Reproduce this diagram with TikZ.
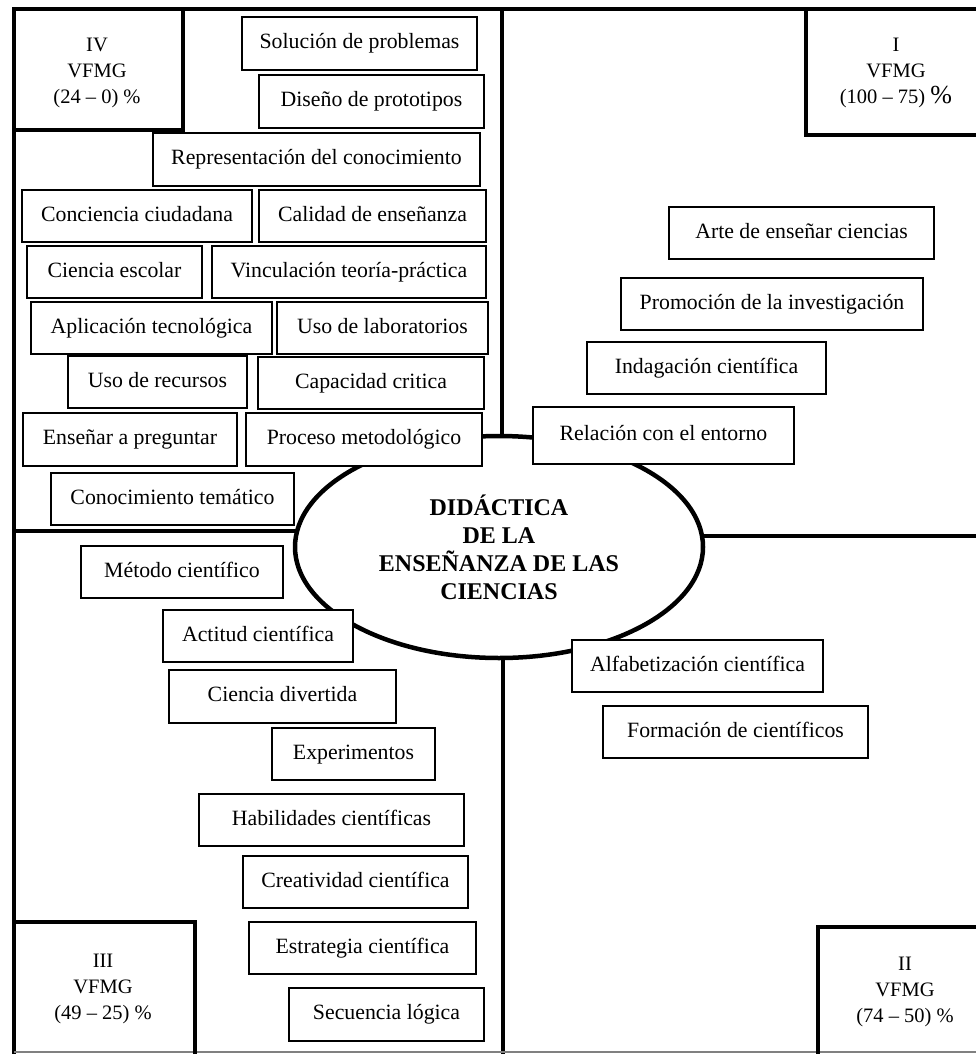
\documentclass[tikz,border=0pt]{standalone}
\usepackage{fontspec}
\setmainfont{Liberation Serif}
\usetikzlibrary{shapes.geometric,backgrounds}
\tikzset{
  bx/.style={draw=black, fill=white, line width=1.2pt, inner sep=0pt, text height=15pt, text depth=5pt, font=\fontsize{21.8}{25}\selectfont},
  thickline/.style={line width=4.5pt, line cap=rect},
  quad/.style={align=center, font=\fontsize{20.5}{26}\selectfont},
  ell/.style={draw=black, fill=white, ellipse, line width=4.5pt, inner sep=0pt, minimum width=408pt, minimum height=222pt, align=center, font=\fontsize{24}{28}\selectfont\bfseries}
}
\newcommand\mybox[6]{\node[bx, minimum width=#4pt, minimum height=#5pt] (#1) at (#2,#3) {#6};}
\begin{document}
\begin{tikzpicture}[x=1pt, y=-1pt]
\useasboundingbox (0,0) rectangle (975,1054);
% frame
\draw[thickline] (980,9) -- (14,9) -- (14,1052);
\draw[gray, line width=1.5pt] (14,1052) -- (980,1052);
% corner boxes
\draw[thickline] (183,9) -- (183,130) -- (14,130);
\draw[thickline] (985,135) -- (806,135) -- (806,9);
\draw[thickline] (985,927) -- (818,927) -- (818,1060);
\draw[thickline] (14,922) -- (195,922) -- (195,1060);
\node[quad] (qIV) at (97,73) {IV\\VFMG\\(24 -- 0) \%};
\node[quad] (qI) at (896,73) {I\\VFMG\\(100 -- 75) {\fontsize{26}{26}\selectfont\%}};
\node[quad] (qII) at (905,992) {II\\VFMG\\(74 -- 50) \%};
\node[quad] (qIII) at (103,989) {III\\VFMG\\(49 -- 25) \%};
% center
\node[ell] (core) at (499,547) {DIDÁCTICA\\DE LA\\ENSEÑANZA DE LAS\\CIENCIAS};
\coordinate (ctop) at (502,9);
\coordinate (cbot) at (503,1052);
\coordinate (cleft) at (14,531);
\coordinate (cright) at (980,536);
\begin{scope}[on background layer]
\draw[thickline] (ctop) -- (ctop |- core.center);
\draw[thickline] (cbot) -- (cbot |- core.center);
\draw[thickline] (cleft) -- (cleft -| core.center);
\draw[thickline] (cright) -- (cright -| core.center);
\end{scope}
% quadrant IV
\mybox{sol}{359.5}{43.5}{235}{53}{Solución de problemas}
\mybox{dis}{371.5}{101.5}{225}{53}{Diseño de prototipos}
\mybox{rep}{316.5}{159.5}{327}{53}{Representación del conocimiento}
\mybox{con}{137}{216}{230}{52}{Conciencia ciudadana}
\mybox{cal}{372.5}{216}{227}{52}{Calidad de enseñanza}
\mybox{cie}{114.5}{272}{175}{52}{Ciencia escolar}
\mybox{vin}{349}{272}{274}{52}{Vinculación teoría-práctica}
\mybox{apl}{151.5}{328}{241}{52}{Aplicación tecnológica}
\mybox{lab}{382.5}{328}{211}{52}{Uso de laboratorios}
\mybox{rec}{157.5}{382}{179}{52}{Uso de recursos}
\mybox{cap}{371}{383}{226}{52}{Capacidad critica}
\mybox{pre}{130}{439.5}{214}{53}{Enseñar a preguntar}
\mybox{pro}{364}{439.5}{236}{53}{Proceso metodológico}
\mybox{tem}{172.5}{499}{243}{52}{Conocimiento temático}
% quadrant I
\mybox{art}{801.5}{233}{265}{52}{Arte de enseñar ciencias}
\mybox{prm}{772}{304}{302}{52}{Promoción de la investigación}
\mybox{ind}{706.5}{368}{239}{52}{Indagación científica}
\mybox{rel}{663.5}{435.5}{261}{57}{Relación con el entorno}
% quadrant II
\mybox{alf}{697.5}{666}{251}{52}{Alfabetización científica}
\mybox{for}{735.5}{732}{265}{52}{Formación de científicos}
% quadrant III
\mybox{met}{182}{572}{202}{52}{Método científico}
\mybox{act}{258}{636}{190}{52}{Actitud científica}
\mybox{div}{282.5}{696.5}{227}{53}{Ciencia divertida}
\mybox{exp}{353.5}{754}{163}{52}{Experimentos}
\mybox{hab}{331.5}{820}{265}{52}{Habilidades científicas}
\mybox{cre}{355.5}{882}{225}{52}{Creatividad científica}
\mybox{est}{362.5}{948}{227}{52}{Estrategia científica}
\mybox{sec}{386.5}{1014.5}{195}{53}{Secuencia lógica}
\end{tikzpicture}
\end{document}
